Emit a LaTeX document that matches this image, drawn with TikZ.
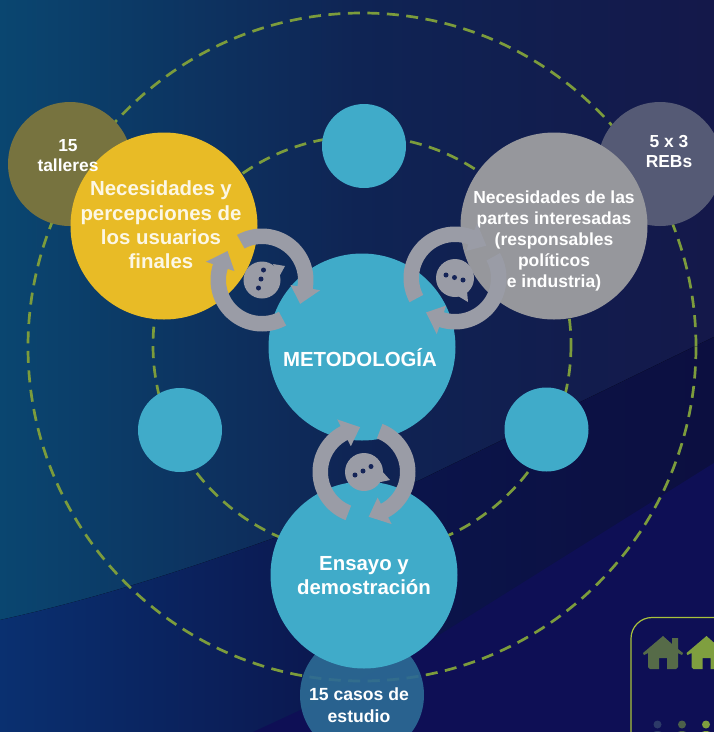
\documentclass[tikz,border=0pt]{standalone}
\usepackage{fontspec}
\setmainfont{Liberation Sans}
\usetikzlibrary{calc}
\definecolor{bgL}{HTML}{0A4670}
\definecolor{bgM}{HTML}{0F2454}
\definecolor{bgR}{HTML}{14184A}
\definecolor{lowL}{HTML}{0A3070}
\definecolor{lowM}{HTML}{0B154C}
\definecolor{lowR}{HTML}{0C0F40}
\definecolor{band}{HTML}{0E0F55}
\definecolor{cteal}{HTML}{40ABC9}
\definecolor{cyel}{HTML}{E8BB26}
\definecolor{cgray}{HTML}{96979C}
\definecolor{arrgray}{HTML}{9A9CA6}
\definecolor{olivec}{HTML}{77733F}
\definecolor{slatec}{HTML}{555A75}
\definecolor{casosc}{HTML}{2C6A94}
\definecolor{dashg}{HTML}{7C9C3C}
\definecolor{navy}{HTML}{152457}
\definecolor{boxg}{HTML}{A9C23C}
\definecolor{house1}{HTML}{566B48}
\definecolor{house2}{HTML}{7F9F3F}
\tikzset{
  x=1pt,y=-1pt,
  ring/.style={draw=dashg,line width=2.7pt,dash pattern=on 12pt off 7.5pt},
  disc/.style={circle,inner sep=0pt,minimum size=#1},
  bigtext/.style={font=\fontsize{20.4}{24.3}\bfseries\selectfont,text=white!88!cyel,align=center},
  maintext/.style={font=\fontsize{20.4}{24}\bfseries\selectfont,text=white,align=center},
  gtext/.style={font=\fontsize{17.5}{21}\bfseries\selectfont,text=white,align=center},
  smalltext/.style={font=\fontsize{17.4}{20}\bfseries\selectfont,text=white,align=center},
  casostext/.style={font=\fontsize{17.6}{22.5}\bfseries\selectfont,text=white,align=center},
  arrowband/.style={fill=arrgray},
  bubble/.style={fill=arrgray},
  bubdot/.style={fill=navy},
}
% center, tail angle, base angle (math angles; drawn in a y-down frame)
\newcommand{\cyclearrow}[3]{%
  \fill[arrowband] ($(#1)+({51.5*cos(#2)},{-51.5*sin(#2)})$)
    \foreach \k in {0,...,40}{ -- ($(#1)+({51.5*cos(#2+(#3-(#2))*\k/40)},{-51.5*sin(#2+(#3-(#2))*\k/40)})$)}
    -- ($(#1)+({59*cos(#3)},{-59*sin(#3)})$)
    -- ($(#1)+({45*cos(#3-22)},{-45*sin(#3-22)})$)
    -- ($(#1)+({29*cos(#3)},{-29*sin(#3)})$)
    \foreach \k in {40,...,0}{ -- ($(#1)+({36*cos(#2+(#3-(#2))*\k/40)},{-36*sin(#2+(#3-(#2))*\k/40)})$)}
    -- cycle;}
\newcommand{\housepath}[1]{%
  \fill[#1] (20,0) -- (29,8) -- (29,2) -- (35,2) -- (35,13) -- (40,17) -- (39,19) -- (35,17)
    -- (35,31) -- (33,33) -- (24,33) -- (24,22) -- (16,22) -- (16,33) -- (7,33) -- (5,31)
    -- (5,17) -- (1,19) -- (0,17) -- cycle;}
\begin{document}
\begin{tikzpicture}
\useasboundingbox (0,0) rectangle (714,732);
\clip (0,0) rectangle (714,732);
% background
\fill[left color=bgL,right color=bgR,middle color=bgM] (0,0) rectangle (714,732);
\begin{scope}
\clip (0,620) .. controls (100,598) and (190,568) .. (277,537) .. controls (330,520) and (375,500) .. (420,480) -- (714,337) -- (714,732) -- (0,732) -- cycle;
\fill[left color=lowL,right color=lowR,middle color=lowM] (0,0) rectangle (714,732);
\end{scope}
\fill[band] (253,732) -- (307,707) -- (420,647) -- (714,463) -- (714,732) -- cycle;
% dashed rings
\draw[ring] (362,347) circle[radius=334];
\draw[ring] (362,345) circle[radius=209];
% outer small discs
\node[disc=124pt,fill=olivec] (talleres) at (70,164) {};
\node[disc=124pt,fill=slatec] (rebs) at (660,164) {};
\node[disc=124pt,fill=casosc,fill opacity=.92] (casos) at (362,695) {};
% small teal discs
\node[disc=84pt,fill=cteal] (top) at (364,146) {};
\node[disc=84pt,fill=cteal] (left) at (180,430) {};
\node[disc=84pt,fill=cteal] (right) at (546.5,429.5) {};
% main discs
\node[disc=187pt,fill=cyel] (users) at (164,226) {};
\node[disc=187pt,fill=cgray] (stake) at (554,226) {};
\node[disc=187pt,fill=cteal] (metod) at (362,347) {};
\node[disc=187pt,fill=cteal] (ensayo) at (364,575) {};
% labels
\node[smalltext] (talleresT) at (68,156) {15\\talleres};
\node[smalltext] (rebsT) at (669,151.5) {5 x 3\\REBs};
\node[casostext] (casosT) at (359,705) {15 casos de\\estudio};
\node[bigtext] (usersT) at (161,225) {Necesidades y\\percepciones de\\los usuarios\\finales};
\node[gtext] (stakeT) at (554,240.5) {Necesidades de las\\partes interesadas\\(responsables\\políticos\\e industria)};
\node[maintext] (metodT) at (360,358) {METODOLOGÍA};
\node[maintext] (ensayoT) at (364,576) {Ensayo y\\demostración};
% cycle arrows
\coordinate (c1) at (262,280);
\coordinate (c2) at (455,278);
\coordinate (c3) at (364,472);
\cyclearrow{c1}{119}{-10}
\cyclearrow{c1}{-62}{-198}
\cyclearrow{c2}{208}{68}
\cyclearrow{c2}{29}{-108}
\cyclearrow{c3}{249}{117}
\cyclearrow{c3}{69}{-62}
% speech bubbles
\fill[bubble] (c1) circle[radius=18.5];
\fill[bubble] (273,264) -- (285,266) -- (279,277) -- cycle;
\fill[bubdot] (263.5,270) circle[radius=2.5] (261,279) circle[radius=2.5] (258.5,288) circle[radius=2.5];
\fill[bubble] (c2) circle[radius=19];
\fill[bubble] (458,296) -- (468,302) -- (467,291) -- cycle;
\fill[bubdot] (446,275) circle[radius=2.5] (454.5,277.5) circle[radius=2.5] (463,280) circle[radius=2.5];
\fill[bubble] (c3) circle[radius=19];
\fill[bubble] (381,470) -- (390,480) -- (376,483) -- cycle;
\fill[bubdot] (355,475) circle[radius=2.5] (363,471) circle[radius=2.5] (371,466.5) circle[radius=2.5];
% corner card
\draw[draw=boxg,line width=1.2pt,rounded corners=21pt] (631,745) -- (631,617.5) -- (740,617.5);
\begin{scope}[shift={(643,636)}]\housepath{house1}\end{scope}
\begin{scope}[shift={(686.5,636)}]\housepath{house2}\end{scope}
\fill[fill=navy!90!white] (657.5,724.5) circle[radius=4] (657.5,735) ellipse[x radius=6,y radius=4];
\fill[fill=house1!85!navy] (682,724.5) circle[radius=4] (682,735) ellipse[x radius=6,y radius=4];
\fill[fill=house2] (706,724.5) circle[radius=4] (706,735) ellipse[x radius=6,y radius=4];
\end{tikzpicture}
\end{document}
